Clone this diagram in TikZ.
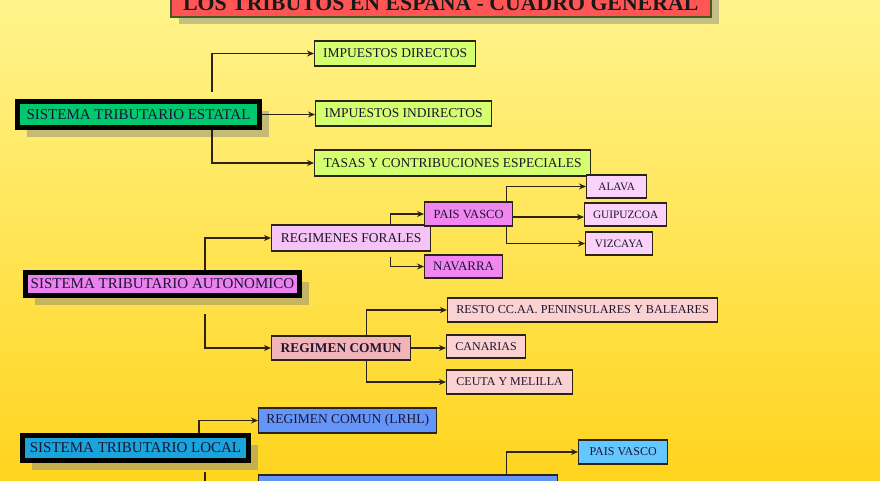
\documentclass[tikz,border=0pt]{standalone}
\usepackage{fontspec}
\setmainfont{Liberation Serif}
\usepackage{tikz}
\usetikzlibrary{arrows.meta,shadows}
\definecolor{bgtop}{RGB}{255,244,140}
\definecolor{bgbot}{RGB}{255,212,30}
\definecolor{inktext}{RGB}{30,20,50}
\definecolor{boxline}{RGB}{45,35,20}
\definecolor{titlered}{RGB}{255,85,85}
\definecolor{titleline}{RGB}{70,90,40}
\definecolor{estatalgreen}{RGB}{0,200,110}
\definecolor{impgreen}{RGB}{212,255,110}
\definecolor{autoviolet}{RGB}{235,130,240}
\definecolor{foralpink}{RGB}{245,195,245}
\definecolor{pvmagenta}{RGB}{240,135,240}
\definecolor{provpink}{RGB}{250,210,250}
\definecolor{comunrose}{RGB}{240,180,185}
\definecolor{restorose}{RGB}{250,210,210}
\definecolor{localblue}{RGB}{25,165,220}
\definecolor{lrhlblue}{RGB}{100,150,250}
\definecolor{pvblue}{RGB}{100,200,255}
\tikzset{sysbox/.style={rectangle, draw=black, line width=5pt, inner sep=0pt, anchor=west, text=inktext, font=\fontsize{15}{17}\selectfont, drop shadow={shadow xshift=9pt, shadow yshift=-9pt, fill=gray, opacity=0.45}}, subbox/.style={rectangle, draw=boxline, line width=1.3pt, inner sep=0pt, anchor=west, text=inktext, font=\fontsize{13.5}{15}\selectfont}, provbox/.style={subbox, minimum height=23pt, font=\fontsize{11.3}{13}\selectfont}, titlebox/.style={rectangle, draw=titleline, line width=1.5pt, fill=titlered, inner sep=0pt, anchor=west, minimum width=540pt, minimum height=31pt, font=\bfseries\fontsize{21.8}{24}\selectfont, text=black!90, drop shadow={shadow xshift=8pt, shadow yshift=-7pt, fill=gray, opacity=0.45}}, arrow/.style={-{Stealth[length=7pt,width=6pt]}, line width=1.3pt, draw=boxline}}

\begin{document}
\begin{tikzpicture}[x=1pt,y=-1pt]
\path[clip] (0,0) rectangle (880,480);
\shade[top color=bgtop, bottom color=bgbot] (0,0) rectangle (880,480);
% title
\node[titlebox] (title) at (170,1.5) {LOS TRIBUTOS EN ESPAÑA - CUADRO GENERAL};
% estatal
\node[sysbox, fill=estatalgreen, minimum width=242pt, minimum height=26pt] (estatal) at (15,114.5) {SISTEMA TRIBUTARIO ESTATAL};
\node[subbox, fill=impgreen, minimum width=161pt, minimum height=25pt] (dir) at (314,53.5) {IMPUESTOS DIRECTOS};
\node[subbox, fill=impgreen, minimum width=176pt, minimum height=25pt] (indir) at (315,113.5) {IMPUESTOS INDIRECTOS};
\node[subbox, fill=impgreen, minimum width=276pt, minimum height=26pt] (tasas) at (314,163) {TASAS Y CONTRIBUCIONES ESPECIALES};
\draw[arrow] ([xshift=73.5pt,yshift=7pt]estatal.north) |- (dir.west);
\draw[arrow] (estatal.east) -- (estatal.east -| indir.west);
\draw[arrow] ([xshift=73.5pt]estatal.south) |- (tasas.west);
% autonomico
\node[sysbox, fill=autoviolet, minimum width=274pt, minimum height=23pt] (auto) at (23,284) {SISTEMA TRIBUTARIO AUTONOMICO};
\node[subbox, fill=foralpink, minimum width=159pt, minimum height=26pt] (forales) at (271,238) {REGIMENES FORALES};
\node[subbox, fill=pvmagenta, font=\fontsize{12.5}{14}\selectfont, minimum width=88pt, minimum height=24pt] (pvasco) at (424,214) {PAIS VASCO};
\node[subbox, fill=pvmagenta, font=\fontsize{13}{15}\selectfont, minimum width=78pt, minimum height=23pt] (navarra) at (424,266.5) {NAVARRA};
\node[provbox, fill=provpink, minimum width=60pt] (alava) at (586,186.5) {ALAVA};
\node[provbox, fill=provpink, minimum width=82pt] (guipuzcoa) at (584,214.5) {GUIPUZCOA};
\node[provbox, fill=provpink, minimum width=67pt] (vizcaya) at (585,243.5) {VIZCAYA};
\node[subbox, fill=comunrose, font=\bfseries\fontsize{13.4}{15}\selectfont, minimum width=139pt, minimum height=24pt] (comun) at (271,348) {REGIMEN COMUN};
\node[subbox, fill=restorose, font=\fontsize{12.2}{14}\selectfont, minimum width=270pt, minimum height=24pt] (resto) at (447,310) {RESTO CC.AA. PENINSULARES Y BALEARES};
\node[subbox, fill=restorose, font=\fontsize{12}{14}\selectfont, minimum width=79pt, minimum height=23pt] (canarias) at (446,346.5) {CANARIAS};
\node[subbox, fill=restorose, font=\fontsize{12}{14}\selectfont, minimum width=126pt, minimum height=24pt] (ceuta) at (446,382) {CEUTA Y MELILLA};
\draw[arrow] ([xshift=42.5pt]auto.north) |- (forales.west);
\draw[arrow] ([xshift=42.5pt,yshift=-16pt]auto.south) |- (comun.west);
\draw[arrow] ([xshift=39pt]forales.north) |- (pvasco.west);
\draw[arrow] ([xshift=39pt,yshift=-5pt]forales.south) |- (navarra.west);
\draw[arrow] ([xshift=37.5pt]pvasco.north) |- (alava.west);
\draw[arrow] ([yshift=-3pt]pvasco.east) -- ([yshift=-3pt]pvasco.east -| guipuzcoa.west);
\draw[arrow] ([xshift=37.5pt]pvasco.south) |- (vizcaya.west);
\draw[arrow] ([xshift=25pt]comun.north) |- (resto.west);
\draw[arrow] (comun.east) -- (comun.east -| canarias.west);
\draw[arrow] ([xshift=25pt]comun.south) |- (ceuta.west);
% local
\node[sysbox, fill=localblue, minimum width=226pt, minimum height=25pt] (local) at (20,448) {SISTEMA TRIBUTARIO LOCAL};
\node[subbox, fill=lrhlblue, minimum width=178pt, minimum height=25pt] (lrhl) at (258,420.5) {REGIMEN COMUN (LRHL)};
\node[subbox, fill=lrhlblue, minimum width=299pt, minimum height=26pt] (especial) at (258,488) {};
\node[provbox, fill=pvblue, font=\fontsize{12}{14}\selectfont, minimum width=89pt, minimum height=24pt] (pvlocal) at (578,452) {PAIS VASCO};
\draw[arrow] ([xshift=63.5pt]local.north) |- (lrhl.west);
\draw[arrow] ([xshift=69.5pt,yshift=-9pt]local.south) |- (especial.west);
\draw[arrow] ([xshift=98pt]especial.north) |- (pvlocal.west);
\end{tikzpicture}
\end{document}
